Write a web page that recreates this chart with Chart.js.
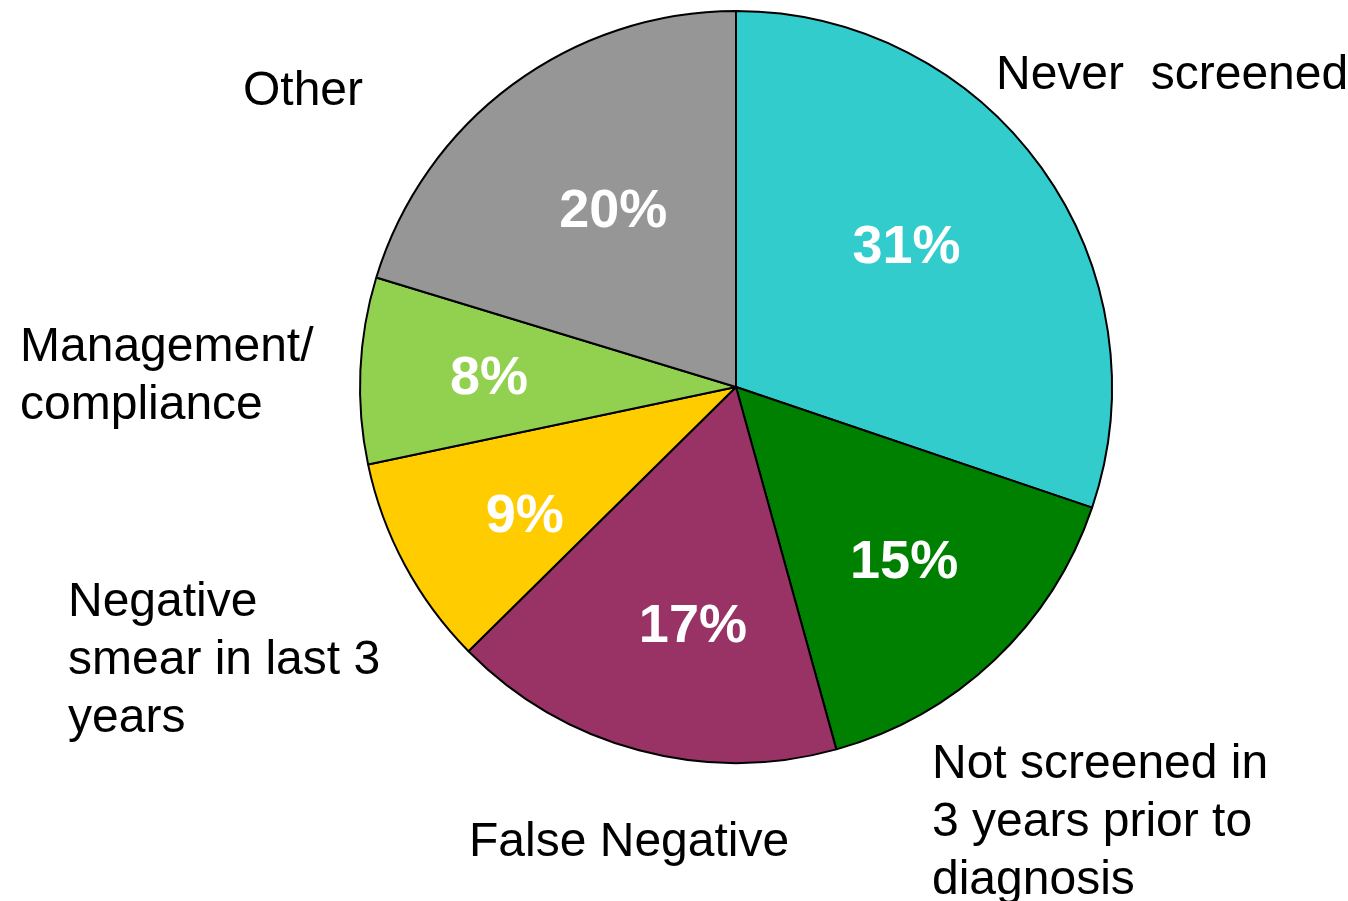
<!DOCTYPE html>
<html>
<head>
<meta charset="utf-8">
<title>Reasons</title>
<script src="https://cdn.jsdelivr.net/npm/chart.js@4/dist/chart.umd.min.js"></script>
<style>
  html, body { margin: 0; padding: 0; background: #fff; }
  #wrap { width: 1348px; height: 901px; }
</style>
</head>
<body>
<div id="wrap"><canvas id="pieChart" width="1348" height="901"></canvas></div>
<script>
// slice shares, clockwise from 12 o'clock
const categories = ['Never  screened', 'Not screened in 3 years prior to diagnosis', 'False Negative',
  'Negative smear in last 3 years', 'Management/ compliance', 'Other'];
const shares = [30.2, 15.5, 16.9, 9.1, 8.0, 20.3];
const pctLabels = ['31%', '15%', '17%', '9%', '8%', '20%'];
const sliceColors = ['#33CCCC', '#008000', '#993366', '#FFCC00', '#92D050', '#969696'];

// outside label lines, one array per slice
const labelLines = [
  ['Never  screened'],
  ['Not screened in', '3 years prior to', 'diagnosis'],
  ['False Negative'],
  ['Negative', 'smear in last 3', 'years'],
  ['Management/', 'compliance'],
  ['Other']
];
// where each outside label block starts (left x, centre y of first line)
const labelAnchors = [[996, 76], [932, 765], [469, 843], [68, 603], [20, 348], [243, 92]];
const lineGap = 58;
// small hand nudges of the in-slice percentages
const pctNudge = [[-19, -3], [8, 7], [17, 15], [-6, 20], [-14, 2], [16, 12]];

const textPlugin = {
  id: 'textPlugin',
  afterDatasetsDraw(chart) {
    const ctx = chart.ctx;
    const meta = chart.getDatasetMeta(0);
    ctx.save();
    // percentages inside the slices
    ctx.fillStyle = '#fff';
    ctx.font = 'bold 54px "Liberation Sans", Arial, sans-serif';
    ctx.textAlign = 'center';
    ctx.textBaseline = 'middle';
    meta.data.forEach((arc, i) => {
      const mid = (arc.startAngle + arc.endAngle) / 2;
      const r = arc.outerRadius * 0.62;
      ctx.fillText(pctLabels[i], arc.x + Math.cos(mid) * r + pctNudge[i][0], arc.y + Math.sin(mid) * r + pctNudge[i][1]);
    });
    // category labels outside
    ctx.fillStyle = '#000';
    ctx.font = '48px "Liberation Sans", Arial, sans-serif';
    ctx.textAlign = 'left';
    labelLines.forEach((lines, i) => {
      const [x, y] = labelAnchors[i];
      lines.forEach((t, j) => ctx.fillText(t, x, y + j * lineGap));
    });
    ctx.restore();
  }
};

new Chart(document.getElementById('pieChart'), {
  type: 'pie',
  data: {
    labels: categories,
    datasets: [{
      data: shares,
      backgroundColor: sliceColors,
      borderColor: '#000',
      borderWidth: 2
    }]
  },
  options: {
    responsive: false,
    animation: false,
    devicePixelRatio: 1,
    layout: { padding: { left: 359, right: 235, top: 10, bottom: 137 } },
    plugins: {
      legend: { display: false },
      tooltip: { enabled: false }
    }
  },
  plugins: [textPlugin]
});
</script>
</body>
</html>
